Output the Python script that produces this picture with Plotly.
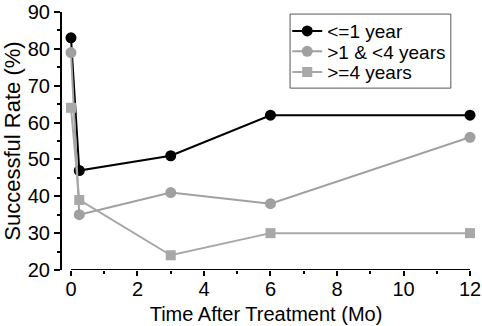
import plotly.graph_objects as go

months = [0, 0.25, 3, 6, 12]
le1 = [83, 47, 51, 62, 62]
mid = [79, 35, 41, 38, 56]
ge4 = [64, 39, 24, 30, 30]
names = ["<=1 year", ">1 & <4 years", ">=4 years"]
x_ticks = [0, 2, 4, 6, 8, 10, 12]
y_ticks = [20, 30, 40, 50, 60, 70, 80, 90]

fig = go.Figure()
fig.add_trace(go.Scatter(x=months, y=le1, name=names[0], mode="lines+markers", legend="legend",
                         line=dict(color="black", width=2),
                         marker=dict(symbol="circle", size=11, color="black"), cliponaxis=False))
fig.add_trace(go.Scatter(x=months, y=mid, name=names[1], mode="lines+markers", legend="legend2",
                         line=dict(color="#a0a0a0", width=2),
                         marker=dict(symbol="circle", size=11, color="#a0a0a0"), cliponaxis=False))
fig.add_trace(go.Scatter(x=months, y=ge4, name=names[2], mode="lines+markers", legend="legend3",
                         line=dict(color="#a8a8a8", width=2),
                         marker=dict(symbol="square", size=10, color="#a8a8a8"), cliponaxis=False))

# x axis line drawn from 0 to 12 only (offset from y axis)
fig.add_shape(type="line", xref="x", yref="y", x0=0, x1=12, y0=20, y1=20,
              line=dict(color="black", width=2))
# legend frame
fig.add_shape(type="rect", xref="paper", yref="paper", x0=0.559, x1=0.953, y0=0.705, y1=0.992,
              line=dict(color="#555555", width=1), fillcolor="rgba(0,0,0,0)", layer="above")

font = "Liberation Sans, Arial, sans-serif"
leg = dict(xanchor="left", yanchor="middle", bgcolor="rgba(0,0,0,0)", borderwidth=0,
           font=dict(size=19), itemwidth=30)
fig.update_layout(
    template="none",
    width=482, height=326,
    margin=dict(l=62, r=12, t=12, b=56, autoexpand=False),
    paper_bgcolor="white", plot_bgcolor="white",
    font=dict(family=font, color="black", size=16),
    showlegend=True,
    legend=dict(leg, x=0.552, y=0.926),
    legend2=dict(leg, x=0.552, y=0.847),
    legend3=dict(leg, x=0.552, y=0.767),
    xaxis=dict(range=[-0.27, 12], tickvals=x_ticks, showline=False, showgrid=False,
               zeroline=False, ticks="outside", ticklen=5, tickwidth=1.5, tickcolor="black",
               automargin=False, ticklabelstandoff=-4,
               minor=dict(tickvals=[1, 3, 5, 7, 9, 11], ticks="outside", ticklen=3, tickcolor="black"),
               tickfont=dict(size=20),
               title=dict(text="Time After Treatment (Mo)", font=dict(size=20), standoff=7)),
    yaxis=dict(range=[20, 90], tickvals=y_ticks, showline=True, linecolor="black", linewidth=2,
               showgrid=False, zeroline=False, ticks="outside", ticklen=6, tickwidth=1.5,
               tickcolor="black", automargin=False,
               minor=dict(tickvals=[25, 35, 45, 55, 65, 75, 85], ticks="outside", ticklen=3,
                          tickcolor="black"),
               tickfont=dict(size=20),
               title=dict(text="Successful Rate (%)", font=dict(size=22), standoff=2)),
)

fig.write_html("out.html", config={"displayModeBar": False},
               post_script="document.body.style.margin='0';")
